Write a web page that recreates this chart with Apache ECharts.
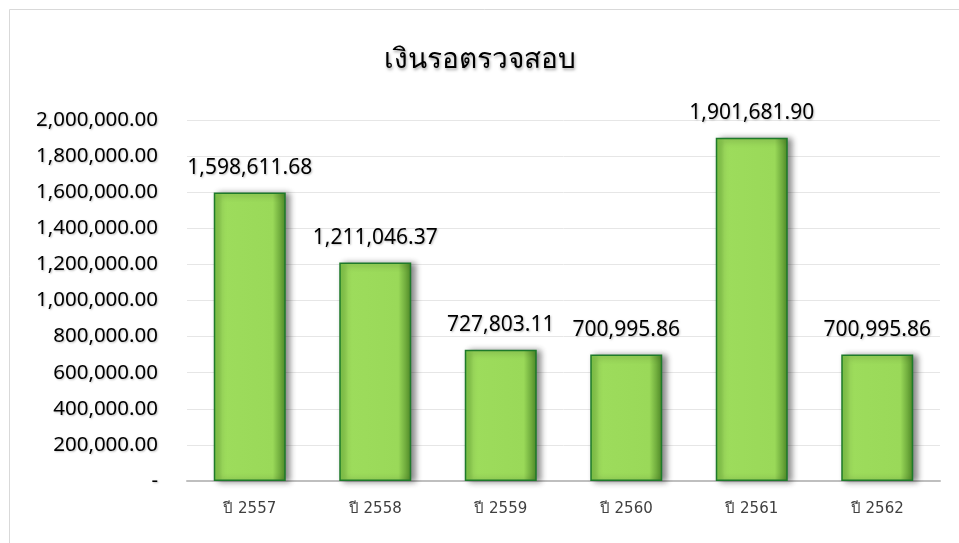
<!DOCTYPE html>
<html>
<head>
<meta charset="utf-8">
<script src="https://cdn.jsdelivr.net/npm/echarts@6/dist/echarts.min.js"></script>
<style>
  html, body { margin: 0; padding: 0; background: #fff; }
  #chart { width: 959px; height: 543px; }
</style>
</head>
<body>
<div id="chart"></div>
<script>
// ข้อมูล
const titleText = 'เงินรอตรวจสอบ'
const categories = ['ปี 2557', 'ปี 2558', 'ปี 2559', 'ปี 2560', 'ปี 2561', 'ปี 2562']
const values = [1598611.68, 1211046.37, 727803.11, 700995.86, 1901681.90, 700995.86]

// จัดรูปแบบตัวเลข
const fmt = (v) => v === 0 ? '-' : v.toLocaleString('en-US', { minimumFractionDigits: 2, maximumFractionDigits: 2 })

const chart = echarts.init(document.getElementById('chart'))

const barColor = new echarts.graphic.LinearGradient(0, 0, 1, 0, [
  { offset: 0, color: '#7cc445' },
  { offset: 0.12, color: '#9ddc5c' },
  { offset: 0.82, color: '#9ad959' },
  { offset: 1, color: '#4f8a28' },
])

chart.setOption({
  backgroundColor: '#fff',
  title: {
    text: titleText,
    left: 'center',
    top: 42,
    textStyle: {
      fontFamily: 'Tahoma, "DejaVu Sans", sans-serif',
      fontSize: 28,
      fontWeight: 'normal',
      color: '#000',
      textShadowColor: 'rgba(0,0,0,0.35)',
      textShadowBlur: 3,
      textShadowOffsetX: 1,
      textShadowOffsetY: 2,
    },
  },
  graphic: [
    {
      type: 'rect',
      shape: { x: 9.5, y: 9.5, width: 960, height: 560 },
      style: { fill: 'none', stroke: '#d9d9d9', lineWidth: 1 },
      z: -1,
    },
  ],
  grid: { left: 187, right: 19, top: 120, bottom: 62 },
  xAxis: {
    type: 'category',
    data: categories,
    axisLine: { lineStyle: { color: '#bfbfbf', width: 2 } },
    axisTick: { show: false },
    axisLabel: {
      margin: 21,
      fontSize: 15,
      color: '#404040',
      fontFamily: 'Tahoma, "DejaVu Sans", sans-serif',
    },
  },
  yAxis: {
    type: 'value',
    min: 0,
    max: 2000000,
    interval: 200000,
    axisLine: { show: false },
    axisTick: { show: false },
    splitLine: { lineStyle: { color: '#e6e6e6', width: 1 } },
    axisLabel: {
      margin: 29,
      fontSize: 20.5,
      color: '#000',
      fontFamily: '"Noto Sans", sans-serif',
      formatter: fmt,
      textShadowColor: 'rgba(0,0,0,0.25)',
      textShadowBlur: 2,
      textShadowOffsetX: 1,
      textShadowOffsetY: 1,
    },
  },
  series: [
    {
      type: 'bar',
      data: values,
      barWidth: 72,
      itemStyle: {
        color: barColor,
        borderColor: '#1e7a2a',
        borderWidth: 1.5,
        shadowColor: 'rgba(0,0,0,0.45)',
        shadowBlur: 6,
        shadowOffsetX: 4,
        shadowOffsetY: 1,
      },
      label: {
        show: true,
        position: 'top',
        distance: 14,
        fontSize: 21,
        color: '#000',
        fontFamily: '"Noto Sans", sans-serif',
        formatter: (p) => fmt(p.value),
        textShadowColor: 'rgba(0,0,0,0.25)',
        textShadowBlur: 2,
        textShadowOffsetX: 1,
        textShadowOffsetY: 1,
      },
    },
  ],
})
</script>
</body>
</html>
